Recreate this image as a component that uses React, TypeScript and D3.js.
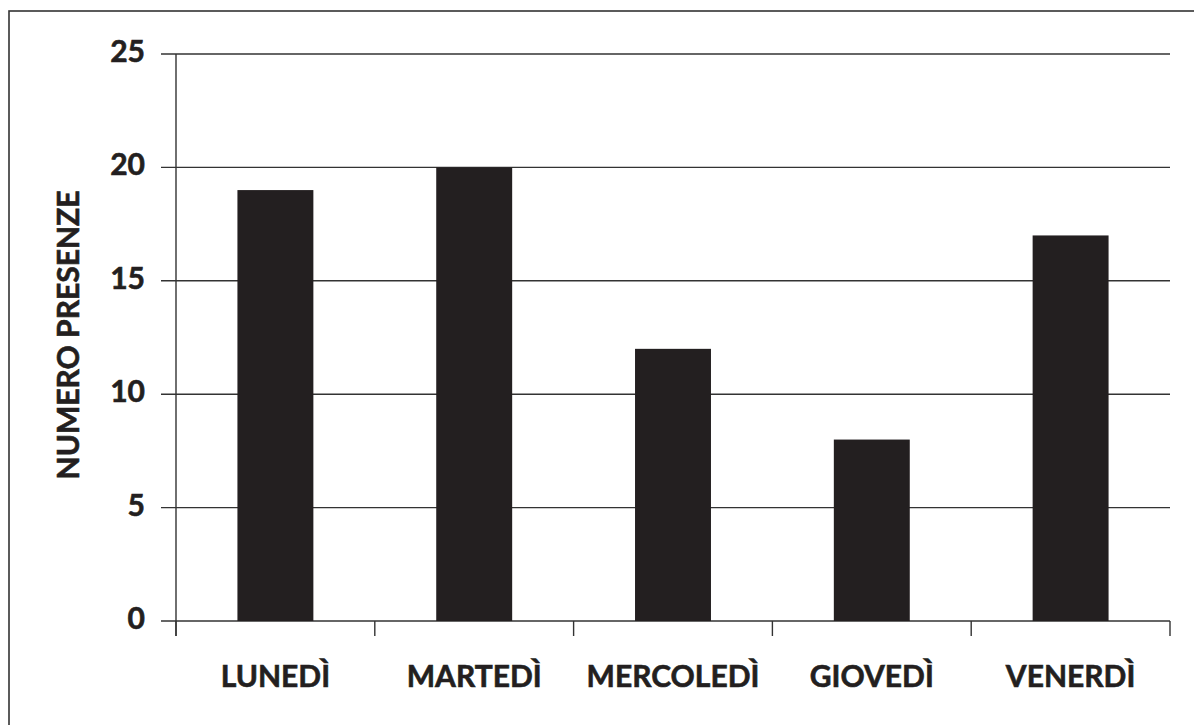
import React from "react";
import * as d3 from "d3";

const categories = ["LUNEDÌ", "MARTEDÌ", "MERCOLEDÌ", "GIOVEDÌ", "VENERDÌ"];
const values = [19, 20, 12, 8, 17];
const yTicks = [0, 5, 10, 15, 20, 25];
const yLabel = "NUMERO PRESENZE";

const W = 1194;
const H = 725;
const left = 176;
const right = 1170;
const top = 54;
const bottom = 621;
const ink = "#231f20";
const font = "Lato, 'Open Sans', sans-serif";

const textProps = {
  fontFamily: font,
  fontWeight: 700,
  fontSize: 30,
  fill: ink,
  stroke: ink,
  strokeWidth: 0.6,
};

export default function App() {
  const x = d3.scaleBand<string>().domain(categories).range([left, right]).padding(0);
  const y = d3.scaleLinear().domain([0, 25]).range([bottom, top]);
  const bw = x.bandwidth();
  const barW = bw * 0.382;
  const boundaries = categories.map((c) => x(c) as number).concat([right]);

  return (
    <svg width={W} height={H} style={{ position: "absolute", left: 0, top: 0, background: "#fff" }}>
      <rect x={9} y={11} width={W + 20} height={H + 20} fill="#fff" stroke="#333" strokeWidth={1.6} />
      {yTicks.map((t) => (
        <g key={t}>
          <line x1={161} x2={right} y1={y(t)} y2={y(t)} stroke="#333" strokeWidth={1.4} />
          <text x={145} y={y(t) + 8} textAnchor="end" {...textProps}>
            {t}
          </text>
        </g>
      ))}
      <line x1={left} x2={left} y1={top} y2={636} stroke="#333" strokeWidth={1.4} />
      {boundaries.map((b, i) => (
        <line key={i} x1={b} x2={b} y1={bottom} y2={636} stroke="#333" strokeWidth={1.4} />
      ))}
      {categories.map((c, i) => {
        const cx = (x(c) as number) + bw / 2;
        return (
          <g key={c}>
            <rect x={cx - barW / 2} y={y(values[i])} width={barW} height={bottom - y(values[i])} fill={ink} />
            <text x={cx} y={687} textAnchor="middle" {...textProps}>
              {c}
            </text>
          </g>
        );
      })}
      <text
        transform={`translate(79,${(193 + 477) / 2}) rotate(-90)`}
        textAnchor="middle"
        {...textProps}
      >
        {yLabel}
      </text>
    </svg>
  );
}
